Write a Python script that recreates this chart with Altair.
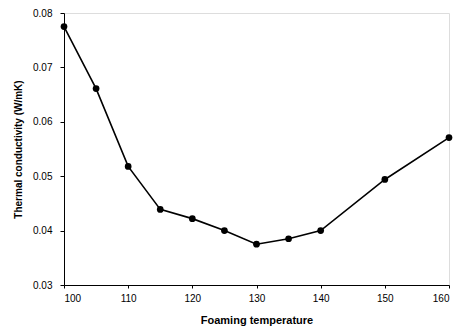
import altair as alt
import pandas as pd

temperature = [100, 105, 110, 115, 120, 125, 130, 135, 140, 150, 160]
conductivity = [0.0775, 0.0661, 0.0518, 0.0439, 0.0422, 0.0400, 0.0375, 0.0385, 0.0400, 0.0494, 0.0571]
x_ticks = [100, 110, 120, 130, 140, 150, 160]
y_ticks = [0.03, 0.04, 0.05, 0.06, 0.07, 0.08]

df = pd.DataFrame({"temperature": temperature, "conductivity": conductivity})

font = "Liberation Sans"

x = alt.X("temperature:Q",
          scale=alt.Scale(domain=[100, 160], nice=False, zero=False),
          axis=alt.Axis(values=x_ticks, title="Foaming temperature", format="d",
                        grid=False, tickSize=3, labelPadding=5, titlePadding=11,
                        titleFontSize=11,
                        domainColor="black", tickColor="black"))
y = alt.Y("conductivity:Q",
          scale=alt.Scale(domain=[0.03, 0.08], nice=False, zero=False),
          axis=alt.Axis(values=y_ticks, title="Thermal conductivity (W/mK)", format=".2f",
                        grid=False, tickSize=4, labelPadding=8, titlePadding=9,
                        titleFontSize=10,
                        domainColor="black", tickColor="black"))

base = alt.Chart(df).encode(x=x, y=y)
line = base.mark_line(color="black", strokeWidth=1.6)
pts = base.mark_point(filled=True, color="black", size=45, opacity=1)

chart = (line + pts).properties(
    width=385, height=272,
    autosize=alt.AutoSizeParams(type="none"),
    padding={"left": 64, "top": 13, "right": 8, "bottom": 47},
).configure_view(
    stroke="black", strokeWidth=1
).configure_axis(
    labelFont=font, titleFont=font, labelFontSize=9,
    labelFontWeight="bold", titleFontWeight="bold", labelColor="black", titleColor="black",
    domainWidth=1, tickWidth=1
).configure(background="white")

chart.save("out.html", embed_options={"renderer": "svg", "actions": False})
